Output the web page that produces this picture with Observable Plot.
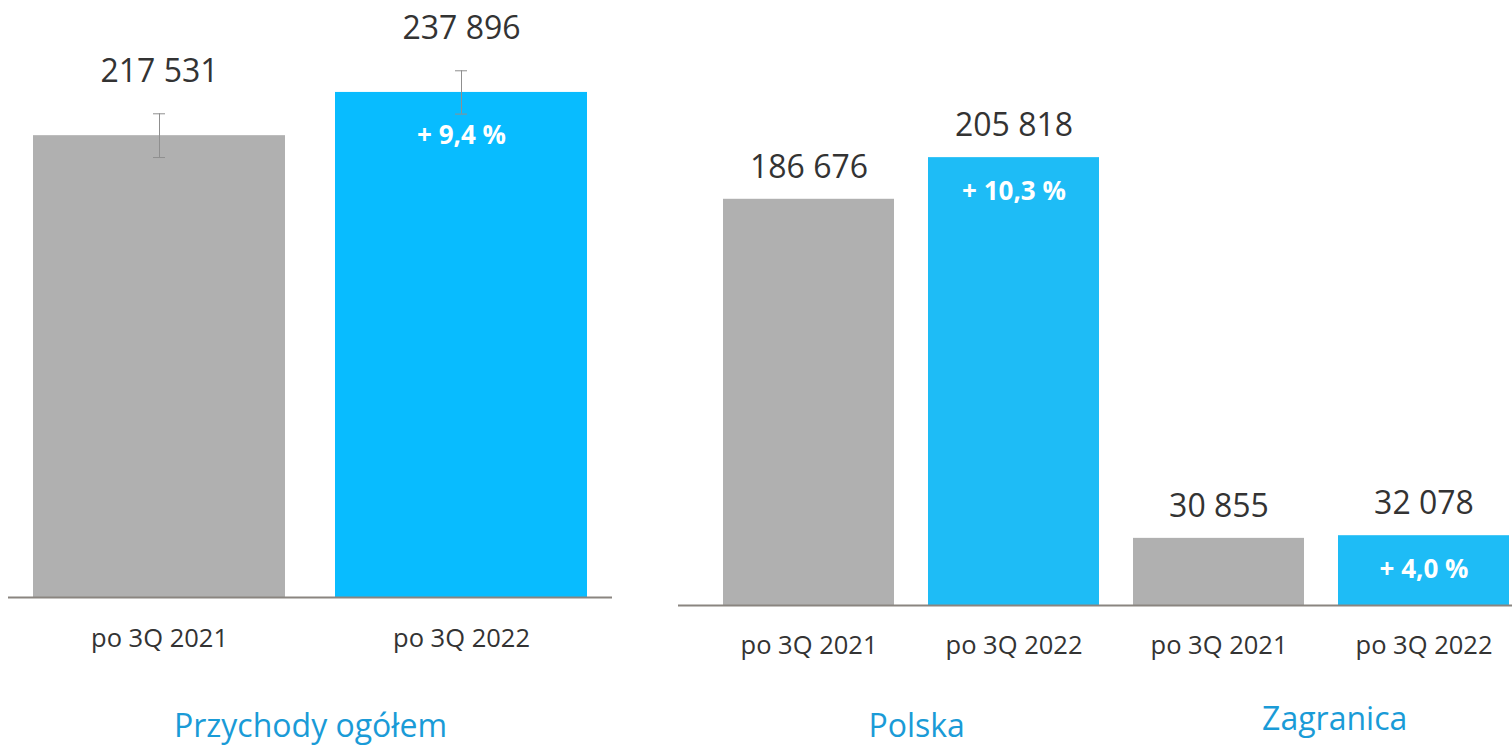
<!DOCTYPE html>
<html><head><meta charset="utf-8">
<script src="https://cdn.jsdelivr.net/npm/d3@7"></script>
<script src="https://cdn.jsdelivr.net/npm/@observablehq/plot@0.6"></script>
<style>
html,body{margin:0;padding:0;background:#fff;}
#chart{display:flex;width:1512px;height:747px;overflow:hidden;}
#chart svg{flex:none;}
</style></head><body><div id="chart"></div>
<script>
// ---- data ----
const totalTitle = "Przychody ogółem";
const totalPeriods = ["po 3Q 2021", "po 3Q 2022"];
const totalValues = [217531, 237896];
const totalErrors = [10300, 10200];
const totalChange = ["", "+ 9,4 %"];

const segmentNames = ["Polska", "Polska", "Zagranica", "Zagranica"];
const segmentPeriods = ["po 3Q 2021", "po 3Q 2022", "po 3Q 2021", "po 3Q 2022"];
const segmentValues = [186676, 205818, 30855, 32078];
const segmentChange = ["", "+ 10,3 %", "", "+ 4,0 %"];
const segmentTitles = ["Polska", "Zagranica"];

// ---- styles ----
const GRAY = "#b0b0b0", BLUE_L = "#08bcff", BLUE_R = "#1ebcf6", TITLE = "#1a9bd7", AXIS = "#8a8580", TXT = "#333333";
const FONT = "'Open Sans', 'Noto Sans', sans-serif";
const fmt = d3.formatLocale({decimal: ",", thousands: " ", grouping: [3], currency: ["", ""]}).format(",d");

// ---- left panel ----
const totalData = totalPeriods.map((p, i) => ({key: p, period: p, value: totalValues[i], err: totalErrors[i], change: totalChange[i]}));
const leftPI = 50 / 302, leftPO = 25 / 302;
const left = Plot.plot({
  width: 678, height: 747,
  marginLeft: 8, marginRight: 66, marginTop: 0, marginBottom: 150,
  style: {fontFamily: FONT, background: "white", color: TXT},
  x: {domain: totalPeriods, paddingInner: leftPI, paddingOuter: leftPO, label: null},
  y: {domain: [0, 281200], axis: null},
  color: {type: "identity"},
  marks: [
    Plot.barY(totalData, {x: "key", y: "value", fill: d => d.period.endsWith("2021") ? GRAY : BLUE_L}),
    Plot.ruleX(totalData, {x: "key", y1: d => d.value - d.err, y2: d => d.value + d.err, stroke: "#8f8f8f", strokeWidth: 1}),
    Plot.tickY(totalData, {x: "key", y: d => d.value - d.err, insetLeft: 120, insetRight: 120, stroke: "#8f8f8f", strokeWidth: 1}),
    Plot.tickY(totalData, {x: "key", y: d => d.value + d.err, insetLeft: 120, insetRight: 120, stroke: "#8f8f8f", strokeWidth: 1}),
    Plot.ruleY([0], {stroke: AXIS, strokeWidth: 2}),
    Plot.axisX({tickSize: 0, tickPadding: 31, fontSize: 25.5, label: null}),
    Plot.text(totalData, {x: "key", y: "value", text: d => fmt(d.value), dy: -64, fontSize: 32, fill: TXT}),
    Plot.text(totalData, {x: "key", y: "value", text: "change", dy: 43, fontSize: 26, fontWeight: "bold", fill: "white"}),
    Plot.text([totalTitle], {text: d => d, frameAnchor: "bottom", lineAnchor: "middle", dy: 129, fontSize: 32, fill: TITLE})
  ]
});

// ---- right panel ----
const segData = segmentNames.map((s, i) => ({key: s + "|" + segmentPeriods[i], seg: s, period: segmentPeriods[i], value: segmentValues[i], change: segmentChange[i]}));
const rightW = 834, rPI = 0.166, rPO = 0.114, rAlign = 0.936;
const rStep = rightW / (segData.length - rPI + 2 * rPO);
const right = Plot.plot({
  width: rightW, height: 747,
  marginLeft: 0, marginRight: 0, marginTop: 0, marginBottom: 142,
  style: {fontFamily: FONT, background: "white", color: TXT},
  x: {domain: segData.map(d => d.key), paddingInner: rPI, paddingOuter: rPO, align: rAlign, label: null},
  y: {domain: [0, 278030], axis: null},
  color: {type: "identity"},
  marks: [
    Plot.barY(segData, {x: "key", y: "value", fill: d => d.period.endsWith("2021") ? GRAY : BLUE_R}),
    Plot.ruleY([0], {stroke: AXIS, strokeWidth: 2}),
    Plot.axisX({tickSize: 0, tickPadding: 30, fontSize: 25.5, label: null, tickFormat: k => k.split("|")[1]}),
    Plot.text(segData, {x: "key", y: "value", text: d => fmt(d.value), dy: -32, fontSize: 32, fill: TXT}),
    Plot.text(segData, {x: "key", y: "value", text: "change", dy: 34, fontSize: 26, fontWeight: "bold", fill: "white"}),
    Plot.text([segmentTitles[0]], {x: g => g + "|po 3Q 2021", text: d => d, frameAnchor: "bottom", lineAnchor: "middle", dx: rStep / 2 + 5, dy: 121, fontSize: 32, fill: TITLE}),
    Plot.text([segmentTitles[1]], {x: g => g + "|po 3Q 2021", text: d => d, frameAnchor: "bottom", lineAnchor: "middle", dx: rStep / 2 + 13, dy: 114, fontSize: 32, fill: TITLE})
  ]
});

const root = document.getElementById("chart");
root.appendChild(left);
root.appendChild(right);
</script></body></html>
